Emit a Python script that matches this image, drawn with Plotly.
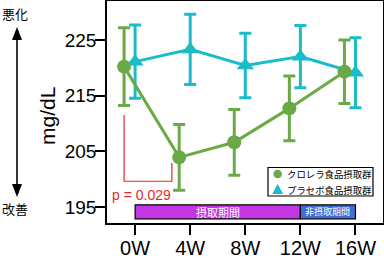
import plotly.graph_objects as go

weeks = [0, 4, 8, 12, 16]
week_labels = ["0W", "4W", "8W", "12W", "16W"]
chlorella_mean = [220.2, 203.9, 206.6, 212.7, 219.3]
chlorella_sd = [7.0, 5.9, 5.9, 5.8, 5.7]
placebo_mean = [221.1, 223.3, 220.4, 222.0, 219.1]
placebo_sd = [6.6, 6.3, 5.8, 5.6, 6.3]
y_ticks = [195, 205, 215, 225]
series_names = ["クロレラ食品摂取群", "プラセボ食品摂取群"]
p_label = "p = 0.029"
period_labels = ["摂取期間", "非摂取期間"]
period_ranges = [(0, 12), (12, 16)]

GREEN = "#6AAA46"
CYAN = "#1BBCC9"
RED = "#E8262A"
FONT = "Arial, Liberation Sans, Noto Sans CJK JP"
JFONT = "Noto Sans CJK JP"

W, H = 384, 258
ML, MR, MT, MB = 107, 1, 1, 35
PW, PH = W - ML - MR, H - MT - MB


def px(xp):
    return (xp - ML) / PW


def py(yp):
    return (H - MB - yp) / PH


dodge = -0.8
green_x = [w + dodge for w in weeks]

fig = go.Figure()
fig.add_trace(go.Scatter(
    x=weeks, y=placebo_mean, mode="lines+markers", name=series_names[1],
    line=dict(color=CYAN, width=3),
    marker=dict(symbol="triangle-up", size=15, color=CYAN),
    error_y=dict(type="data", array=placebo_sd, color=CYAN, thickness=3, width=6),
    showlegend=False))
fig.add_trace(go.Scatter(
    x=green_x, y=chlorella_mean, mode="lines+markers", name=series_names[0],
    line=dict(color=GREEN, width=3),
    marker=dict(symbol="circle", size=14, color=GREEN),
    error_y=dict(type="data", array=chlorella_sd, color=GREEN, thickness=3, width=6),
    showlegend=False))

shapes = []
# significance bracket
bx0 = green_x[0]
bx1 = 2.67
shapes.append(dict(type="path", xref="x", yref="y",
                   path=f"M {bx0},{chlorella_mean[0]-8.7} L {bx0},199.6 L {bx1},199.6 L {bx1},202.9",
                   line=dict(color=RED, width=1.2)))
# period bars
period_colors = ["#C535E3", "#3D6DD5"]
for (a, b), c in zip(period_ranges, period_colors):
    shapes.append(dict(type="rect", xref="x", yref="y", x0=a, x1=b, y0=192.85, y1=195.35,
                       fillcolor=c, line=dict(color="black", width=1.2), layer="above"))

# manual legend box
shapes.append(dict(type="rect", xref="paper", yref="paper", x0=px(268), x1=px(373),
                   y0=py(196), y1=py(167.5), fillcolor="white", line=dict(color="black", width=1.2),
                   layer="above"))
r = 4.3
cx, cy = 277.7, 174
shapes.append(dict(type="circle", xref="paper", yref="paper", x0=px(cx - r), x1=px(cx + r),
                   y0=py(cy + r), y1=py(cy - r), fillcolor=GREEN, line=dict(width=0), layer="above"))
tx, ty = 277.7, 189.5
shapes.append(dict(type="path", xref="paper", yref="paper",
                   path=f"M {px(tx-5.5)},{py(ty+4.5)} L {px(tx+5.5)},{py(ty+4.5)} L {px(tx)},{py(ty-5.5)} Z",
                   fillcolor=CYAN, line=dict(width=0), layer="above"))

# double arrow (left side)
ax_x = 17
shapes.append(dict(type="line", xref="paper", yref="paper", x0=px(ax_x), x1=px(ax_x),
                   y0=py(36), y1=py(188), line=dict(color="black", width=1.6)))
shapes.append(dict(type="path", xref="paper", yref="paper",
                   path=f"M {px(ax_x-5)},{py(40)} L {px(ax_x+5)},{py(40)} L {px(ax_x)},{py(27)} Z",
                   fillcolor="black", line=dict(width=0)))
shapes.append(dict(type="path", xref="paper", yref="paper",
                   path=f"M {px(ax_x-5)},{py(184)} L {px(ax_x+5)},{py(184)} L {px(ax_x)},{py(197)} Z",
                   fillcolor="black", line=dict(width=0)))


def ann(x, y, text, size, color="black", family=JFONT, xanchor="center", **kw):
    return dict(x=x, y=y, xref="paper", yref="paper", text=text, showarrow=False,
                xanchor=xanchor, yanchor="middle",
                font=dict(family=family, size=size, color=color), **kw)


annotations = [
    dict(x=0.5, y=197.2, xref="x", yref="y", text=p_label, showarrow=False,
         xanchor="center", yanchor="middle", font=dict(family=FONT, size=14, color=RED)),
    dict(x=6, y=194.1, xref="x", yref="y", text=period_labels[0], showarrow=False,
         xanchor="center", yanchor="middle", font=dict(family=JFONT, size=11, color="white")),
    dict(x=14, y=194.1, xref="x", yref="y", text=period_labels[1], showarrow=False,
         xanchor="center", yanchor="middle", font=dict(family=JFONT, size=9, color="white")),
    ann(px(15), py(13), "悪化", 13),
    ann(px(15), py(208), "改善", 13),
    ann(px(47), py(116), "mg/dL", 21, family=FONT, textangle=-90),
    ann(px(285), py(174), series_names[0], 9.4, xanchor="left"),
    ann(px(285), py(189.5), series_names[1], 9.4, xanchor="left"),
]

fig.update_layout(
    width=W, height=H,
    margin=dict(l=ML, r=MR, t=MT, b=MB),
    paper_bgcolor="white", plot_bgcolor="white",
    shapes=shapes, annotations=annotations,
    showlegend=False,
    font=dict(family=FONT, color="black"),
)
fig.update_xaxes(range=[-2.04, 18], tickvals=weeks, ticktext=week_labels, automargin=False,
                 showgrid=False, zeroline=False, showline=True, linecolor="black", linewidth=1.5,
                 mirror=True, ticks="outside", ticklen=10, tickwidth=1.5, tickcolor="black",
                 ticklabelstandoff=-4,
                 tickfont=dict(family=FONT, size=20, color="black"))
fig.update_yaxes(range=[192.1, 232], tickvals=y_ticks, automargin=False,
                 showgrid=False, zeroline=False, showline=True, linecolor="black", linewidth=1.5,
                 mirror=True, ticks="outside", ticklen=10, tickwidth=1.5, tickcolor="black",
                 ticklabelstandoff=-5,
                 tickfont=dict(family=FONT, size=19, color="black"))

fig.write_html("out.html")
